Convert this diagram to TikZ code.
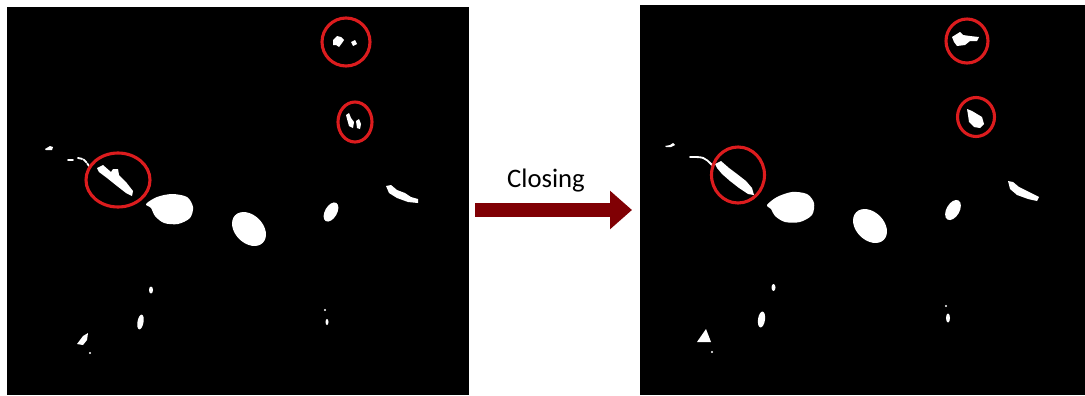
\documentclass[tikz,border=0pt]{standalone}
\usepackage{fontspec}
\setmainfont{Carlito}
\usepackage{xcolor}
\usepackage{tikz}
\usetikzlibrary{arrows.meta}
\definecolor{ringred}{RGB}{220,28,30}
\definecolor{closingred}{RGB}{128,0,4}

\begin{document}
\begin{tikzpicture}[x=0.025cm, y=-0.025cm, every node/.style={font=\fontsize{19}{22}\selectfont},
    blob/.style={fill=white},
    ring/.style={draw=ringred, line width=2.2pt},
    speck/.style={white, line width=1.3pt, line cap=round}]
   \useasboundingbox (0,0) rectangle (1085,395);
   % The two binary masks (always before the blobs!!)
   \fill[black] (7,7) rectangle (469,395);
   \fill[black] (640,5) rectangle (1085,395);

   % ---- before closing ----
   \fill[blob] (333,40) -- (337,36) -- (341,37) -- (344,40) -- (342,43) -- (339,47) -- (336,45) -- (333,45) -- cycle;
   \fill[blob] (351,42) -- (355,40) -- (357,44) -- (353,46) -- cycle;
   \fill[blob] (346,115) -- (349,113) -- (351,118) -- (354,122) -- (353,128) -- (349,126) -- (347,119) -- cycle;
   \fill[blob] (356,121) -- (359,119) -- (361,124) -- (360,129) -- (357,128) -- cycle;
   \fill[blob] (97,168) -- (103,165) -- (111,172) -- (113,169) -- (118,169) -- (119,175) -- (126,182) -- (133,191)
       -- (132,196) -- (126,193) -- (117,186) -- (107,178) -- (99,172) -- cycle;
   \fill[blob] (45,149) -- (50,146) -- (53,147) -- (52,150) -- (46,150) -- cycle;
   \draw[speck] (68,160) -- (73,160);
   \draw[speck, dash pattern=on 3pt off 1pt] (78,158) .. controls (84,159) .. (89,166);
   \fill[blob] plot[smooth cycle] coordinates {(146,204) (157,197) (172,194) (187,197) (193,207) (190,218) (178,224) (164,223) (155,216) (151,208)};
   \fill[blob] (249,229) ellipse [x radius=19.5, y radius=14, rotate=-45];
   \fill[blob] (331,212) ellipse [x radius=10.5, y radius=6, rotate=60];
   \fill[blob] (386,186) -- (391,185) -- (397,190) -- (405,193) -- (411,197) -- (418,199) -- (418,203) -- (408,202)
       -- (397,198) -- (389,193) -- cycle;
   \fill[blob] (151,290) ellipse [x radius=2, y radius=3.5];
   \fill[blob] (140.5,322) ellipse [x radius=3, y radius=7.5, rotate=-10];
   \fill[blob] (77,344) -- (83,336) -- (88,333) -- (87,340) -- (83,345) -- cycle;
   \fill[blob] (90,353) circle [radius=1.2];
   \fill[blob] (325,310) circle [radius=1.2];
   \fill[blob] (327,322) ellipse [x radius=1.5, y radius=3];
   % marked regions
   \draw[ring] (346,42) circle [radius=24];
   \draw[ring] (355,122) ellipse [x radius=17, y radius=20];
   \draw[ring] (118,180) ellipse [x radius=32, y radius=27];

   % Arrow and caption in between
   \coordinate (arrowtail) at (475,210);
   \coordinate (arrowtip) at (632,210);
   \draw[closingred, line width=0.35cm, -{Triangle[length=0.55cm, width=0.93cm]}] (arrowtail) -- (arrowtip);
   \node[anchor=base] (closing) at (546,187) {Closing};

   % ---- after closing ----
   \fill[blob] (952,37) -- (960,32) -- (963,35) -- (970,36) -- (979,37) -- (977,41) -- (970,41) -- (965,45)
       -- (957,46) -- (954,42) -- cycle;
   \fill[blob] (967,109) -- (972,111) -- (977,114) -- (982,117) -- (984,124) -- (980,128) -- (974,127) -- (969,122)
       -- (968,115) -- cycle;
   \fill[blob] (715,164) -- (721,161) -- (729,168) -- (737,174) -- (746,181) -- (752,188) -- (754,195) -- (748,194)
       -- (739,188) -- (730,181) -- (722,174) -- (717,168) -- cycle;
   \fill[blob] (665,146) -- (670,145) -- (673,143) -- (675,145) -- (671,147) -- (666,147) -- cycle;
   \draw[speck] (690,157) .. controls (704,157) .. (712,165);
   \fill[blob] plot[smooth cycle] coordinates {(767,205) (777,197) (792,192) (807,194) (814,203) (812,215) (800,222) (785,222) (775,216) (771,209)};
   \fill[blob] (870,226) ellipse [x radius=19.5, y radius=14, rotate=-45];
   \fill[blob] (953,210) ellipse [x radius=11, y radius=6.5, rotate=60];
   \fill[blob] (1008,181) -- (1013,182) -- (1019,187) -- (1027,191) -- (1033,194) -- (1039,197) -- (1037,201)
       -- (1028,199) -- (1017,195) -- (1010,189) -- cycle;
   \fill[blob] (773.5,287.5) ellipse [x radius=2, y radius=3.5];
   \fill[blob] (761.5,319.5) ellipse [x radius=3.5, y radius=8, rotate=-8];
   \fill[blob] (697,342) -- (706,329) -- (711,342) -- cycle;
   \fill[blob] (712,352) circle [radius=1.2];
   \fill[blob] (946,306) circle [radius=1.2];
   \fill[blob] (948,318) ellipse [x radius=2, y radius=4.5];
   % marked regions
   \draw[ring] (967,41) ellipse [x radius=21, y radius=22];
   \draw[ring] (976,117) ellipse [x radius=18.5, y radius=19.5];
   \draw[ring] (738,175) ellipse [x radius=26.5, y radius=28];
\end{tikzpicture}
\end{document}
